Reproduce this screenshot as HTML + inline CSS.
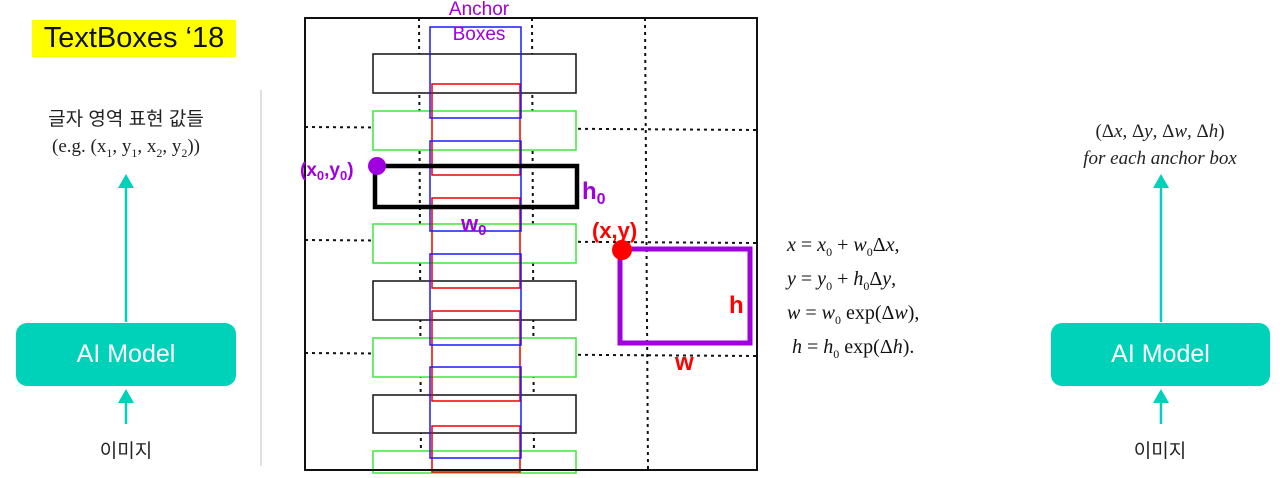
<!DOCTYPE html>
<html><head><meta charset="utf-8"><style>
body{margin:0;width:1285px;height:478px;background:#fff;overflow:hidden;position:relative;font-family:"Liberation Sans","Noto Sans CJK KR",sans-serif}
.a{position:absolute}
sub{line-height:0;font-size:12px}
.box{position:absolute;background:#00d2ba;border-radius:11px;color:#fff;font-size:25px;display:flex;align-items:center;justify-content:center}
</style></head><body>
<div class="a" style="left:32px;top:20px;width:204px;height:37px;background:#ffff00;font-size:29px;line-height:37px;text-align:center;color:#111">TextBoxes ‘18</div>
<div class="a" style="left:260px;top:90px;width:2px;height:376px;background:#e0e0e0"></div>
<div class="a" style="left:0;width:252px;top:106px;text-align:center;font-size:19px;color:#222;line-height:27px">글자 영역 표현 값들<br><span style="font-family:'Liberation Serif',serif;font-size:19px">(e.g. (x<sub>1</sub>, y<sub>1</sub>, x<sub>2</sub>, y<sub>2</sub>))</span></div>
<div class="box" style="left:16px;top:323px;width:220px;height:63px">AI Model</div>
<div class="a" style="left:0;width:252px;top:436px;text-align:center;font-size:19px;color:#222">이미지</div>
<div class="a" style="left:1040px;width:240px;top:118px;text-align:center;font-family:'Liberation Serif',serif;font-size:19px;color:#222;line-height:27px">(Δ<i>x</i>, Δ<i>y</i>, Δ<i>w</i>, Δ<i>h</i>)<br><i>for each anchor box</i></div>
<div class="box" style="left:1051px;top:323px;width:219px;height:63px">AI Model</div>
<div class="a" style="left:1040px;width:240px;top:436px;text-align:center;font-size:19px;color:#222">이미지</div>
<div class="a" style="left:787px;top:228px;font-family:'Liberation Serif',serif;font-size:20px;line-height:34px;color:#111">
<i>x</i> = <i>x</i><sub>0</sub> + <i>w</i><sub>0</sub>Δ<i>x</i>,<br>
<i>y</i> = <i>y</i><sub>0</sub> + <i>h</i><sub>0</sub>Δ<i>y</i>,<br>
<i>w</i> = <i>w</i><sub>0</sub> exp(Δ<i>w</i>),<br>
&nbsp;<i>h</i> = <i>h</i><sub>0</sub> exp(Δ<i>h</i>).</div>
<svg class="a" style="left:0;top:0" width="1285" height="478">
<g stroke="#00d2ba" stroke-width="2.5" fill="#00d2ba">
<line x1="126" y1="322" x2="126" y2="180"/><path d="M118,188 L126,174 L134,188Z" stroke="none"/>
<line x1="126" y1="424" x2="126" y2="396"/><path d="M118,403 L126,389 L134,403Z" stroke="none"/>
<line x1="1161" y1="322" x2="1161" y2="180"/><path d="M1153,188 L1161,174 L1169,188Z" stroke="none"/>
<line x1="1161" y1="424" x2="1161" y2="396"/><path d="M1153,403 L1161,389 L1169,403Z" stroke="none"/>
</g>
<g stroke="#111" stroke-width="2" stroke-dasharray="3,4" fill="none">
<line x1="419" y1="18" x2="421" y2="470"/><line x1="532" y1="18" x2="534" y2="470"/><line x1="645" y1="18" x2="648" y2="470"/>
<line x1="305" y1="127" x2="757" y2="130"/><line x1="305" y1="240" x2="757" y2="243"/><line x1="305" y1="353" x2="757" y2="356"/>
</g>
<g fill="#fff" stroke-width="1.5">
<rect x="373" y="54" width="203" height="39" stroke="#111"/>
<rect x="373" y="111" width="203" height="39" stroke="#3ee63e"/>
<rect x="373" y="224" width="203" height="39" stroke="#3ee63e"/>
<rect x="373" y="281" width="203" height="39" stroke="#111"/>
<rect x="373" y="338" width="203" height="39" stroke="#3ee63e"/>
<rect x="373" y="395" width="203" height="38" stroke="#111"/>
<rect x="373" y="451" width="203" height="22" stroke="#3ee63e"/>
</g>
<g fill="none" stroke-width="1.5">
<rect x="432" y="84" width="88" height="91" stroke="#e00"/>
<rect x="432" y="198" width="88" height="90" stroke="#e00"/>
<rect x="432" y="311" width="88" height="90" stroke="#e00"/>
<rect x="432" y="426" width="88" height="46" stroke="#e00"/>
<rect x="430" y="27" width="91" height="91" stroke="#1a1aff"/>
<rect x="430" y="141" width="91" height="90" stroke="#1a1aff"/>
<rect x="430" y="254" width="91" height="91" stroke="#1a1aff"/>
<rect x="430" y="367" width="91" height="91" stroke="#1a1aff"/>
</g>
<rect x="305" y="18" width="452" height="452" fill="none" stroke="#111" stroke-width="2"/>
<rect x="375" y="166" width="202" height="41" fill="none" stroke="#000" stroke-width="4.5"/>
<rect x="620" y="249" width="130" height="94" fill="none" stroke="#a000e0" stroke-width="5"/>
<circle cx="377" cy="166" r="9" fill="#a000e0"/>
<circle cx="622" cy="250" r="10" fill="#f00"/>
<g font-family="Liberation Sans,sans-serif" font-weight="bold">
<text x="300" y="176" fill="#a000e0" font-size="19">(x<tspan font-size="13" dy="4">0</tspan><tspan dy="-4">,y</tspan><tspan font-size="13" dy="4">0</tspan><tspan dy="-4">)</tspan></text>
<text x="582" y="199" fill="#a000e0" font-size="24">h<tspan font-size="16" dy="5">0</tspan></text>
<text x="461" y="231" fill="#a000e0" font-size="22">w<tspan font-size="15" dy="4">0</tspan></text>
<text x="592" y="238" fill="#f00" font-size="22">(x,y)</text>
<text x="729" y="313" fill="#f00" font-size="24">h</text>
<text x="675" y="370" fill="#f00" font-size="24">w</text>
</g>
<g font-family="Liberation Sans,sans-serif" font-size="19" fill="#a000e0" text-anchor="middle">
<text x="479" y="15">Anchor</text><text x="479" y="40">Boxes</text>
</g>
</svg>
</body></html>
